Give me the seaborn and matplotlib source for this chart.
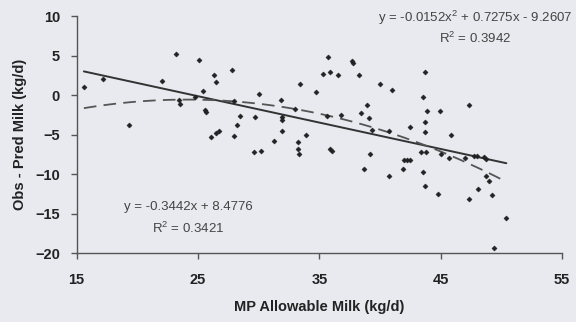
import pandas as pd
import matplotlib
matplotlib.use("Agg")
import matplotlib.pyplot as plt
import seaborn as sns

mp_milk = [15.6, 17.2, 19.3, 22.0, 23.2, 23.4, 23.5, 24.75, 25.1, 25.4,
           25.6, 25.7, 26.3, 26.5, 26.1, 26.5, 26.7, 27.8, 28.0, 28.5,
           28.2, 28.0, 30.0, 29.7, 29.6, 30.2, 31.25, 31.8, 31.9, 31.9,
           31.9, 33.2, 33.2, 33.3, 33.9, 33.0, 33.4, 34.7, 35.7, 35.3,
           35.9, 36.5, 35.6, 35.9, 36.05, 37.65, 37.8, 38.3, 36.8, 38.4,
           38.9, 39.05, 39.3, 40.0, 41.0, 40.7, 43.7, 43.5, 43.9, 44.95,
           47.3, 43.7, 43.7, 45.85, 42.5, 39.2, 38.7, 40.7, 41.85, 42.0,
           42.2, 42.45, 43.35, 43.8, 43.5, 43.7, 44.75, 45.0, 45.7, 47.0,
           47.7, 47.95, 48.6, 48.7, 48.75, 48.95, 47.3, 48.1, 49.2, 50.4,
           49.4]
obs_pred = [1.05, 2.0, -3.8, 1.8, 5.2, -0.6, -1.1, -0.3, 4.5, 0.5,
            -1.9, -2.2, 2.5, 1.7, -5.3, -4.8, -4.5, 3.2, -0.7, -2.7,
            -3.8, -5.2, 0.2, -2.8, -7.2, -7.1, -5.8, -0.6, -2.8, -3.2,
            -4.6, -6.0, -6.8, -7.4, -5.1, -1.8, 1.4, 0.4, 4.85, 2.7,
            2.9, 2.6, -2.65, -6.8, -7.05, 4.3, 4.0, 2.5, -2.5, -2.3,
            -1.2, -2.9, -4.4, 1.35, 0.6, -4.5, 2.9, -0.2, -1.95, -1.95,
            -1.3, -3.4, -4.7, -5.1, -4.1, -7.4, -9.3, -10.2, -9.4, -8.2,
            -8.2, -8.2, -7.2, -7.2, -9.7, -11.5, -12.5, -7.5, -8.0, -8.0,
            -7.7, -7.7, -7.8, -8.1, -10.25, -10.85, -13.1, -11.9, -12.7, -15.5,
            -19.4]

x_ticks = [15, 25, 35, 45, 55]
y_ticks = [10, 5, 0, -5, -10, -15, -20]

quad_eq = "y = -0.0152x$^2$ + 0.7275x - 9.2607"
quad_r2 = "R$^2$ = 0.3942"
lin_eq = "y = -0.3442x + 8.4776"
lin_r2 = "R$^2$ = 0.3421"

df = pd.DataFrame({"mp": mp_milk, "diff": obs_pred})

bg = "#e8eaef"
sns.set_theme(style="ticks")
plt.rcParams["font.family"] = ["Liberation Sans", "DejaVu Sans"]
plt.rcParams["mathtext.fontset"] = "custom"
plt.rcParams["mathtext.rm"] = "Liberation Sans"

fig = plt.figure(figsize=(5.76, 3.22), dpi=100, facecolor=bg)
ax = fig.add_axes([0.133, 0.214, 0.843, 0.736], facecolor=bg)

sns.scatterplot(data=df, x="mp", y="diff", ax=ax, marker="D", s=7,
                color="#222222", edgecolor="#222222", linewidth=0.3, zorder=3)
# linear fit (solid) and 2nd order fit (dashed)
sns.regplot(data=df, x="mp", y="diff", ax=ax, scatter=False, order=1, ci=None,
            truncate=True, line_kws=dict(color="#333333", lw=1.4))
sns.regplot(data=df, x="mp", y="diff", ax=ax, scatter=False, order=2, ci=None,
            truncate=True, line_kws=dict(color="#555555", lw=1.3, dashes=(7, 4)))

ax.set_xlim(15, 55)
ax.set_ylim(-20, 10)
ax.set_xticks(x_ticks)
ax.set_yticks(y_ticks)
ax.tick_params(axis="both", direction="out", length=4, width=1, color="#555555",
               labelsize=10.5, labelcolor="#222222", pad=8)
ax.tick_params(axis="x", pad=10)
for lab in ax.get_xticklabels() + ax.get_yticklabels():
    lab.set_fontweight("bold")
for s in ["top", "right"]:
    ax.spines[s].set_visible(False)
for s in ["left", "bottom"]:
    ax.spines[s].set_color("#555555")
    ax.spines[s].set_linewidth(1)

ax.set_xlabel("MP Allowable Milk (kg/d)", fontsize=10.5, fontweight="bold",
              color="#222222", labelpad=10)
ax.set_ylabel("Obs - Pred Milk (kg/d)", fontsize=10.5, fontweight="bold",
              color="#222222", labelpad=6)

fig.text(0.825, 0.945, quad_eq, ha="center", va="center", fontsize=9.5, color="#444444")
fig.text(0.825, 0.880, quad_r2, ha="center", va="center", fontsize=9.5, color="#444444")
fig.text(0.327, 0.357, lin_eq, ha="center", va="center", fontsize=9.5, color="#444444")
fig.text(0.327, 0.292, lin_r2, ha="center", va="center", fontsize=9.5, color="#444444")

fig.savefig("out.png", dpi=100, facecolor=bg)
